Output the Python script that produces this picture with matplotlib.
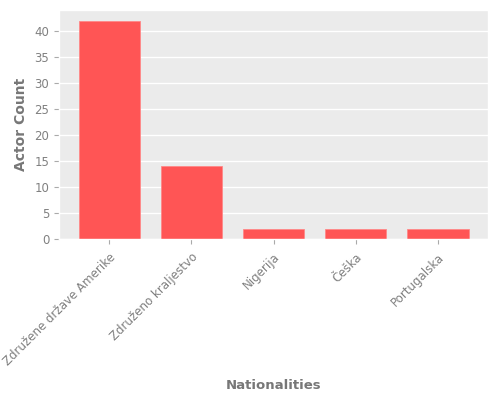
import matplotlib
matplotlib.use("Agg")
import matplotlib.pyplot as plt
from matplotlib.ticker import MultipleLocator

plt.style.use('ggplot')

nationalities = ['Združene države Amerike', 'Združeno kraljestvo', 'Nigerija', 'Češka', 'Portugalska']
counts = [42, 14, 2, 2, 2]

fig, ax = plt.subplots(figsize=(5, 4), dpi=100)
ax.set_facecolor('#EBEBEB')
ax.bar(range(len(counts)), counts, width=0.75, color='#FF5555', edgecolor='#FF8888', linewidth=0.6)
ax.set_xticks(range(len(counts)))
ax.set_xticklabels(nationalities, rotation=45, ha='right', rotation_mode='anchor')
ax.yaxis.set_major_locator(MultipleLocator(5))
ax.tick_params(axis='both', labelsize=8.5, labelcolor='#808080', color='#AAAAAA')
ax.tick_params(axis='x', pad=5)
ax.grid(axis='x', visible=False)
ax.grid(axis='y', color='white', linewidth=1)
ax.set_xlabel('Nationalities', fontweight='bold', color='#777777', fontsize=9.5, va='center')
ax.xaxis.set_label_coords(0.5, -0.6376)
ax.set_ylabel('Actor Count', fontweight='bold', color='#777777', fontsize=10)
ax.yaxis.set_label_coords(-0.072, 0.5)
fig.subplots_adjust(left=0.118, right=0.976, top=0.975, bottom=0.4025)
fig.savefig('out.png')
